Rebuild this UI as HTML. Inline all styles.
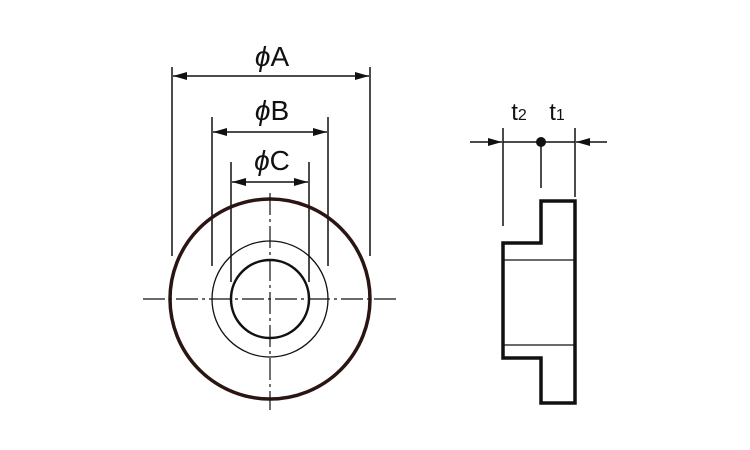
<!DOCTYPE html>
<html><head><style>body{margin:0;background:#fff}svg{display:block}</style></head><body>
<svg width="750" height="450" viewBox="0 0 750 450" xmlns="http://www.w3.org/2000/svg">
<defs>
<marker id="ar" markerWidth="14" markerHeight="8" refX="14" refY="4" orient="auto-start-reverse" markerUnits="userSpaceOnUse"><path d="M0,0 L14,4 L0,8z" fill="#111"/></marker>
</defs>
<g stroke="#111" fill="none">
<g stroke-width="1.5">
<line x1="172" y1="67" x2="172" y2="256"/><line x1="370" y1="67" x2="370" y2="256"/>
<line x1="212" y1="117" x2="212" y2="266"/><line x1="328" y1="117" x2="328" y2="266"/>
<line x1="231" y1="162" x2="231" y2="282"/><line x1="309" y1="162" x2="309" y2="282"/>
</g>
<g stroke-width="1.5">
<line x1="173" y1="76" x2="369" y2="76" marker-end="url(#ar)" marker-start="url(#ar)"/>
<line x1="213" y1="132" x2="327" y2="132" marker-end="url(#ar)" marker-start="url(#ar)"/>
<line x1="232" y1="182" x2="308" y2="182" marker-end="url(#ar)" marker-start="url(#ar)"/>
</g>
<circle cx="270" cy="299" r="100" stroke-width="3.5" stroke="#2a1512"/>
<circle cx="270" cy="299" r="58" stroke-width="1.3"/>
<circle cx="270" cy="299" r="39" stroke-width="2.5"/>
<line x1="143" y1="299" x2="396" y2="299" stroke-width="1.2" stroke-dasharray="22,4,3,4"/>
<line x1="270" y1="193" x2="270" y2="410" stroke-width="1.2" stroke-dasharray="22,4,3,4"/>
<path d="M503,243 L541,243 L541,201 L575,201 L575,403 L541,403 L541,358 L503,358 Z" stroke-width="3.5"/>
<line x1="503" y1="260" x2="575" y2="260" stroke-width="1.3"/>
<line x1="503" y1="345" x2="575" y2="345" stroke-width="1.3"/>
<g stroke-width="1.5">
<line x1="503" y1="128" x2="503" y2="226"/>
<line x1="541" y1="142" x2="541" y2="188"/>
<line x1="575" y1="128" x2="575" y2="197"/>
<line x1="503" y1="142" x2="575" y2="142"/>
<line x1="470" y1="142" x2="502" y2="142" marker-end="url(#ar)"/>
<line x1="607" y1="142" x2="576" y2="142" marker-end="url(#ar)"/>
</g>
</g>
<circle cx="541" cy="142" r="5" fill="#111"/>
<g font-family="Liberation Sans, sans-serif" fill="#111" font-size="28" text-anchor="middle">
<text x="272" y="66"><tspan font-style="italic">ϕ</tspan>A</text>
<text x="272" y="120"><tspan font-style="italic">ϕ</tspan>B</text>
<text x="272" y="170"><tspan font-style="italic">ϕ</tspan>C</text>
<text x="519" y="120" font-size="24">t<tspan font-size="16">2</tspan></text>
<text x="557" y="120" font-size="24">t<tspan font-size="16">1</tspan></text>
</g>
</svg>
</body></html>
